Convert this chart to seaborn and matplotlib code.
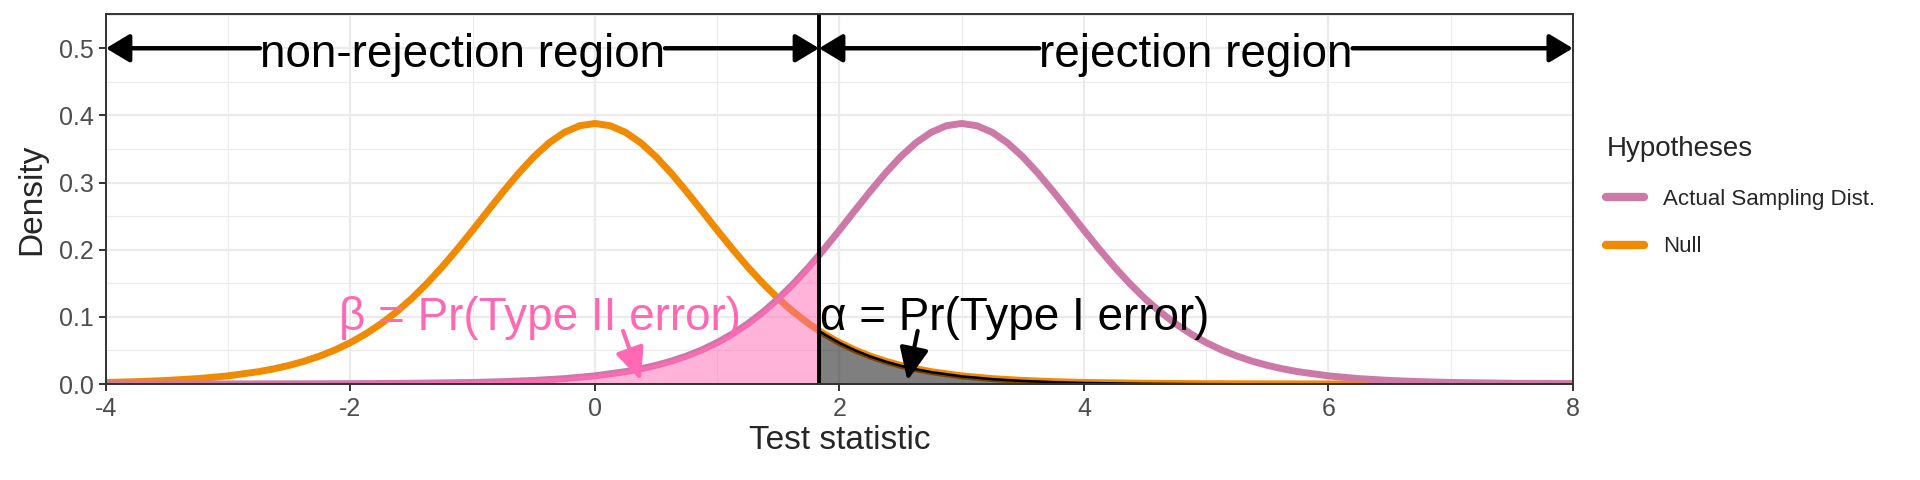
import numpy as np
import pandas as pd
import matplotlib
matplotlib.use("Agg")
import matplotlib.pyplot as plt
import seaborn as sns

# --- values ---
crit = 1.833  # critical value (vertical line)

# null distribution (centred at 0)
null_x = [-4, -3.75, -3.5, -3.25, -3, -2.75, -2.625, -2.5, -2.375, -2.25, -2.125, -2,
          -1.875, -1.75, -1.625, -1.5, -1.375, -1.25, -1.125,
          -1, -0.875, -0.75, -0.625, -0.5, -0.375, -0.25, -0.125, 0,
          0.125, 0.25, 0.375, 0.5, 0.625, 0.75, 0.875, 1,
          1.125, 1.25, 1.375, 1.5, 1.625, 1.75, 1.833, 1.875, 2, 2.125, 2.25, 2.375, 2.5, 2.625, 2.75,
          3, 3.25, 3.5, 3.75, 4, 4.5, 5, 5.5, 6, 7, 8]
null_y = [0.0023, 0.0035, 0.0053, 0.0080, 0.0121, 0.0184, 0.0226, 0.0278, 0.0341, 0.0417, 0.0508, 0.0617,
          0.0746, 0.0897, 0.1072, 0.1271, 0.1496, 0.1743, 0.2010,
          0.2291, 0.2580, 0.2865, 0.3137, 0.3383, 0.3591, 0.3748, 0.3846, 0.3880,
          0.3846, 0.3748, 0.3591, 0.3383, 0.3137, 0.2865, 0.2580, 0.2291,
          0.2010, 0.1743, 0.1496, 0.1271, 0.1072, 0.0897, 0.0794, 0.0746, 0.0617, 0.0508, 0.0417, 0.0341, 0.0278, 0.0226, 0.0184,
          0.0121, 0.0080, 0.0053, 0.0035, 0.0023, 0.0011, 0.0005, 0.0002, 0.0001, 0.0000, 0.0000]

# actual sampling distribution (centred at 3)
actual_x = [-4, -3, -2, -1.5, -1, -0.75, -0.5, -0.25, 0, 0.25, 0.375, 0.5, 0.625, 0.75, 0.875, 1,
            1.125, 1.25, 1.375, 1.5, 1.625, 1.75, 1.833, 1.875, 2, 2.125, 2.25, 2.375, 2.5, 2.625, 2.75, 2.875, 3,
            3.125, 3.25, 3.375, 3.5, 3.625, 3.75, 3.875, 4,
            4.125, 4.25, 4.375, 4.5, 4.625, 4.75, 4.875, 5, 5.125, 5.25, 5.375, 5.5, 5.625, 5.75,
            6, 6.25, 6.5, 6.75, 7, 7.5, 8]
actual_y = [0.0000, 0.0001, 0.0005, 0.0011, 0.0023, 0.0035, 0.0053, 0.0080, 0.0121, 0.0184, 0.0226, 0.0278, 0.0341, 0.0417, 0.0508, 0.0617,
            0.0746, 0.0897, 0.1072, 0.1271, 0.1496, 0.1743, 0.1918, 0.2010, 0.2291, 0.2580, 0.2865, 0.3137, 0.3383, 0.3591, 0.3748, 0.3846, 0.3880,
            0.3846, 0.3748, 0.3591, 0.3383, 0.3137, 0.2865, 0.2580, 0.2291,
            0.2010, 0.1743, 0.1496, 0.1271, 0.1072, 0.0897, 0.0746, 0.0617, 0.0508, 0.0417, 0.0341, 0.0278, 0.0226, 0.0184,
            0.0121, 0.0080, 0.0053, 0.0035, 0.0023, 0.0011, 0.0005]

hypotheses = ["Actual Sampling Dist.", "Null"]
colors = {"Actual Sampling Dist.": "#CC79A7", "Null": "#F08A00"}
pink = "#FF69B4"

df = pd.concat([
    pd.DataFrame({"x": actual_x, "density": actual_y, "Hypotheses": hypotheses[0]}),
    pd.DataFrame({"x": null_x, "density": null_y, "Hypotheses": hypotheses[1]}),
], ignore_index=True)

# --- style ---
sns.set_style("whitegrid")
plt.rcParams["font.family"] = ["Liberation Sans", "DejaVu Sans"]
plt.rcParams["axes.unicode_minus"] = False

fig = plt.figure(figsize=(19.2, 4.8), dpi=100)
ax = fig.add_axes([0.0552, 0.2, 0.764, 0.7708])

sns.lineplot(data=df, x="x", y="density", hue="Hypotheses", hue_order=hypotheses,
             palette=colors, linewidth=5, estimator=None, sort=False, ax=ax)
for ln in ax.lines:
    ln.set_solid_joinstyle("round")
ax.lines[0].set_zorder(2.5)  # purple curve sits over the orange one

# shaded error regions
a_x = np.array(actual_x)
a_y = np.array(actual_y)
n_x = np.array(null_x)
n_y = np.array(null_y)
beta_mask = a_x <= crit
alpha_mask = n_x >= crit
ax.fill_between(a_x[beta_mask], a_y[beta_mask], facecolor=(1, 0.41, 0.71, 0.5),
                edgecolor=pink, linewidth=2, zorder=3)
ax.fill_between(n_x[alpha_mask], n_y[alpha_mask], facecolor=(0, 0, 0, 0.5),
                edgecolor="black", linewidth=1.8, zorder=3)

ax.axvline(crit, color="black", lw=2.8, zorder=4)

# --- region labels with arrows ---
t_left = ax.text((-4 + crit) / 2, 0.49, "non-rejection region", ha="center", va="center",
                 fontsize=33, color="black", zorder=6)
t_right = ax.text((crit + 8) / 2, 0.49, "rejection region", ha="center", va="center",
                  fontsize=33, color="black", zorder=6)

ax.text(-0.45, 0.098, "β = Pr(Type II error)", ha="center", va="center",
        fontsize=33, color=pink, zorder=6)
ax.text(1.84, 0.098, "α = Pr(Type I error)", ha="left", va="center",
        fontsize=33, color="black", zorder=6)

small_head = "-|>,head_length=0.9,head_width=0.4"
ax.annotate("", xy=(0.376, 0.005), xytext=(0.23, 0.079),
            arrowprops=dict(arrowstyle=small_head, mutation_scale=22, lw=3,
                            color=pink, shrinkA=0, shrinkB=0), zorder=6)
ax.annotate("", xy=(2.556, 0.005), xytext=(2.64, 0.079),
            arrowprops=dict(arrowstyle=small_head, mutation_scale=22, lw=3,
                            color="black", shrinkA=0, shrinkB=0), zorder=6)

# --- axes look (theme_bw-like) ---
ax.set_xlim(-4, 8)
ax.set_ylim(0, 0.551)
ax.set_xticks([-4, -2, 0, 2, 4, 6, 8])
ax.set_xticks([-3, -1, 1, 3, 5, 7], minor=True)
ax.set_yticks([0, 0.1, 0.2, 0.3, 0.4, 0.5])
ax.set_yticklabels(["0.0", "0.1", "0.2", "0.3", "0.4", "0.5"])
ax.set_yticks([0.05, 0.15, 0.25, 0.35, 0.45, 0.55], minor=True)
ax.grid(which="major", color="#EBEBEB", lw=1.6)
ax.grid(which="minor", color="#EBEBEB", lw=0.8)
ax.set_axisbelow(True)
for s in ax.spines.values():
    s.set_visible(True)
    s.set_color("#333333")
    s.set_linewidth(1.4)
    s.set_zorder(7)
ax.tick_params(which="major", bottom=True, left=True, length=5, width=1.4, color="#333333",
               labelsize=18, labelcolor="#4D4D4D", pad=4)
ax.tick_params(which="minor", length=0)
ax.set_xlabel("Test statistic", fontsize=24, labelpad=3)
ax.set_ylabel("Density", fontsize=24, labelpad=8)

sns.move_legend(ax, "upper left", bbox_to_anchor=(0.832, 0.735), bbox_transform=fig.transFigure,
                frameon=False, title="Hypotheses", fontsize=16, title_fontsize=20,
                handlelength=1.7, handletextpad=0.85, labelspacing=1.2,
                alignment="left", borderaxespad=0)
for h in ax.get_legend().get_lines():
    h.set_linewidth(6)

# arrows at y = 0.5, broken where the labels sit
fig.canvas.draw()
inv = ax.transData.inverted()


def xspan(t):
    bb = t.get_window_extent()
    (x0, _), (x1, _) = inv.transform([[bb.x0, bb.y0], [bb.x1, bb.y1]])
    return x0, x1


def region_arrow(x_from, x_to):
    ax.annotate("", xy=(x_to, 0.5), xytext=(x_from, 0.5), annotation_clip=False,
                arrowprops=dict(arrowstyle="-|>,head_length=0.55,head_width=0.33",
                                mutation_scale=26, lw=3.2, color="black",
                                shrinkA=0, shrinkB=0), zorder=5)


l0, l1 = xspan(t_left)
r0, r1 = xspan(t_right)
region_arrow(l0, -4)
region_arrow(l1, crit)
region_arrow(r0, crit)
region_arrow(r1, 8)

fig.savefig("out.png", dpi=100, facecolor="white")
